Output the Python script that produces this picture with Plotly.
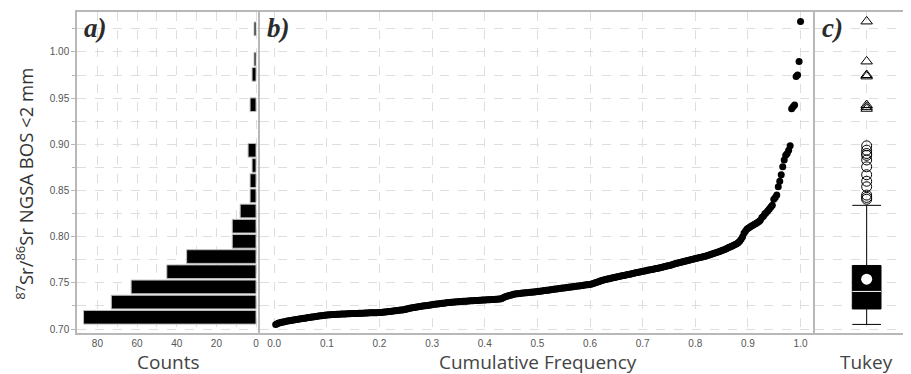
import numpy as np
import plotly.graph_objects as go

# 87Sr/86Sr values (sorted)
sr_values = [
    0.7050, 0.7058, 0.7064, 0.7069, 0.7073, 0.7077, 0.7080, 0.7083, 0.7086, 0.7089,
    0.7092, 0.7095, 0.7098, 0.7100, 0.7103, 0.7105, 0.7108,
    0.7111, 0.7113, 0.7116, 0.7118, 0.7121, 0.7124, 0.7126, 0.7129, 0.7131, 0.7134,
    0.7136, 0.7139, 0.7141, 0.7143, 0.7145, 0.7147, 0.7149, 0.7151, 0.7152, 0.7154,
    0.7155, 0.7156, 0.7157, 0.7158, 0.7159, 0.7160, 0.7161, 0.7162, 0.7163, 0.7163,
    0.7164, 0.7165, 0.7165, 0.7166, 0.7167, 0.7167, 0.7168, 0.7169, 0.7169, 0.7170,
    0.7171, 0.7171, 0.7172, 0.7173, 0.7173, 0.7174, 0.7175, 0.7175, 0.7176, 0.7176,
    0.7177, 0.7177, 0.7178, 0.7178, 0.7179,
    0.7181, 0.7183, 0.7185, 0.7187, 0.7189, 0.7191, 0.7193, 0.7195, 0.7197, 0.7199,
    0.7201, 0.7203, 0.7205, 0.7206, 0.7208,
    0.7212, 0.7216, 0.7220, 0.7225,
    0.7228, 0.7231, 0.7233, 0.7236, 0.7238, 0.7241, 0.7243, 0.7246, 0.7248, 0.7251,
    0.7253, 0.7256, 0.7258, 0.7261, 0.7263, 0.7266,
    0.7268, 0.7270, 0.7272, 0.7274, 0.7276, 0.7278, 0.7280, 0.7282, 0.7284, 0.7286,
    0.7287, 0.7289, 0.7290, 0.7292, 0.7293, 0.7295, 0.7296, 0.7297, 0.7299, 0.7300,
    0.7301, 0.7302, 0.7303, 0.7304, 0.7305, 0.7306, 0.7307, 0.7308, 0.7309, 0.7310,
    0.7311, 0.7312, 0.7313, 0.7314, 0.7315, 0.7316, 0.7317, 0.7318, 0.7319, 0.7320,
    0.7321, 0.7322, 0.7323, 0.7324, 0.7325,
    0.7330, 0.7338, 0.7346, 0.7352, 0.7358, 0.7363, 0.7367, 0.7371,
    0.7377, 0.7379, 0.7381, 0.7383, 0.7385, 0.7387, 0.7389, 0.7390, 0.7392, 0.7394,
    0.7395, 0.7397, 0.7399, 0.7400, 0.7402, 0.7404, 0.7406,
    0.7408, 0.7410, 0.7412, 0.7414, 0.7416, 0.7419, 0.7421, 0.7423, 0.7425, 0.7427,
    0.7430, 0.7432, 0.7434, 0.7436, 0.7438, 0.7441, 0.7443, 0.7445, 0.7447, 0.7449,
    0.7452, 0.7454, 0.7456, 0.7458, 0.7460, 0.7463, 0.7465, 0.7467, 0.7469, 0.7471,
    0.7474, 0.7476, 0.7478, 0.7480, 0.7483, 0.7486,
    0.7490, 0.7495, 0.7500, 0.7506, 0.7512, 0.7518, 0.7524, 0.7529, 0.7533, 0.7536,
    0.7541, 0.7545, 0.7548, 0.7552, 0.7555, 0.7559, 0.7562, 0.7566, 0.7569, 0.7573,
    0.7576, 0.7580, 0.7583, 0.7587, 0.7590, 0.7594, 0.7597, 0.7601, 0.7604, 0.7608,
    0.7611, 0.7615, 0.7618, 0.7622,
    0.7625, 0.7628, 0.7632, 0.7635, 0.7638, 0.7642, 0.7645, 0.7648, 0.7652, 0.7655,
    0.7659, 0.7662, 0.7666, 0.7669, 0.7673, 0.7677, 0.7681, 0.7685, 0.7689, 0.7694,
    0.7698,
    0.7705, 0.7709, 0.7713, 0.7717, 0.7721, 0.7725, 0.7729, 0.7733, 0.7737, 0.7741,
    0.7745, 0.7749, 0.7753, 0.7757, 0.7761, 0.7765, 0.7769, 0.7773, 0.7777, 0.7781,
    0.7785, 0.7789, 0.7794, 0.7799,
    0.7804, 0.7809, 0.7815, 0.7820, 0.7826, 0.7831, 0.7837, 0.7843, 0.7849, 0.7855,
    0.7861,
    0.7870, 0.7877, 0.7884, 0.7891, 0.7899, 0.7907, 0.7915, 0.7924, 0.7935, 0.7950,
    0.7972, 0.7998,
    0.8040, 0.8062, 0.8083, 0.8095, 0.8105, 0.8115, 0.8124, 0.8133, 0.8142, 0.8152,
    0.8163, 0.8178,
    0.8208, 0.8222, 0.8245, 0.8262, 0.8280, 0.8300, 0.8322, 0.8339,
    0.8405, 0.8425, 0.8450,
    0.8540, 0.8600, 0.8670,
    0.8756, 0.8830,
    0.8880, 0.8900, 0.8936, 0.8983,
    0.9385, 0.9405, 0.9425,
    0.9735, 0.9750,
    0.9897,
    1.0330,
]

# histogram bins
bin_start = 0.7045
bin_size = 0.016435
bin_end = 1.0335

# tick labels
sr_ticks = [0.70, 0.75, 0.80, 0.85, 0.90, 0.95, 1.00]
count_ticks = [80, 60, 40, 20, 0]
cf_ticks = [0.0, 0.1, 0.2, 0.3, 0.4, 0.5, 0.6, 0.7, 0.8, 0.9, 1.0]

v = np.sort(np.array(sr_values))
n = len(v)
cum_freq = np.arange(1, n + 1) / n

q1, med, q3 = np.percentile(v, [25, 50, 75])
iqr = q3 - q1
inner_hi, outer_hi = q3 + 1.5 * iqr, q3 + 3.0 * iqr
inner_lo = q1 - 1.5 * iqr
whisk_hi = v[v <= inner_hi].max()
whisk_lo = v[v >= inner_lo].min()
mild = v[(v > inner_hi) & (v <= outer_hi)]
extreme = v[v > outer_hi]
mean_val = v.mean()

BOX_W = 0.9
GRID = "#dedede"
AXL = "#b8b8b8"
TICKF = dict(family="Liberation Sans, Arial, sans-serif", size=10, color="#555555")
TITLEF = dict(family="Open Sans, Noto Sans, sans-serif", size=19, color="#444444")

fig = go.Figure()

fig.add_trace(go.Histogram(
    y=v, ybins=dict(start=bin_start, end=bin_end, size=bin_size),
    marker=dict(color="black", line=dict(color="#bdbdbd", width=1)),
    xaxis="x", yaxis="y", showlegend=False,
))

fig.add_trace(go.Scatter(
    x=cum_freq, y=v, mode="markers",
    marker=dict(color="black", size=7),
    xaxis="x2", yaxis="y2", showlegend=False,
))

fig.add_trace(go.Box(
    x=[0], q1=[q1], median=[med], q3=[q3],
    lowerfence=[whisk_lo], upperfence=[whisk_hi],
    width=BOX_W, whiskerwidth=1, boxpoints=False,
    fillcolor="black", line=dict(color="black", width=1),
    xaxis="x3", yaxis="y3", showlegend=False,
))
fig.add_trace(go.Scatter(
    x=[-BOX_W / 2, BOX_W / 2], y=[med, med], mode="lines",
    line=dict(color="white", width=1),
    xaxis="x3", yaxis="y3", showlegend=False,
))
fig.add_trace(go.Scatter(
    x=[0], y=[mean_val], mode="markers",
    marker=dict(color="white", size=11),
    xaxis="x3", yaxis="y3", showlegend=False,
))
fig.add_trace(go.Scatter(
    x=np.zeros(len(mild)), y=mild, mode="markers",
    marker=dict(symbol="circle-open", color="black", size=10, line=dict(width=1)),
    xaxis="x3", yaxis="y3", showlegend=False,
))
fig.add_trace(go.Scatter(
    x=np.zeros(len(extreme)), y=extreme, mode="markers",
    marker=dict(symbol="triangle-up-open", color="black", size=10, line=dict(width=1)),
    xaxis="x3", yaxis="y3", showlegend=False,
))

YR = [0.6957, 1.0432]
d1 = 183 / 834
d2 = (815.3 - 77) / 834

yminor = dict(dtick=0.025, tick0=0.7, showgrid=True, gridcolor=GRID, griddash="dash")

common_x = dict(showline=True, linecolor=AXL, linewidth=1.5, mirror=True,
                showgrid=True, gridcolor=GRID, griddash="dash", zeroline=False,
                tickfont=TICKF, ticks="", automargin=False)
common_y = dict(domain=[0, 1], range=YR, matches="y", showticklabels=False,
                showline=True, linecolor=AXL, linewidth=1.5,
                showgrid=True, gridcolor=GRID, griddash="dash", zeroline=False,
                tickvals=sr_ticks, minor=yminor, automargin=False)

# the page body adds an 8px offset, so the figure is laid out 8px smaller
fig.update_layout(
    width=903, height=366,
    margin=dict(l=69, r=0, t=4, b=40.7),
    paper_bgcolor="white", plot_bgcolor="white",
    bargap=0.1,
    xaxis=dict(domain=[0, d1], range=[90.3, -2.0], tickvals=count_ticks,
               minor=dict(dtick=10, tick0=0, showgrid=True, gridcolor=GRID, griddash="dash"),
               anchor="y", **common_x),
    yaxis=dict(domain=[0, 1], range=YR, tickvals=sr_ticks, tickformat=".2f",
               showline=True, linecolor=AXL, linewidth=1.5,
               showgrid=True, gridcolor=GRID, griddash="dash", zeroline=False,
               ticks="outside", ticklen=4, tickcolor=AXL, tickfont=TICKF,
               minor=dict(ticks="outside", ticklen=3, tickcolor=AXL, **yminor),
               anchor="x", automargin=False),
    xaxis2=dict(domain=[d1, d2], range=[-0.027, 1.028], tickvals=cf_ticks, tickformat=".1f",
                anchor="y2", **common_x),
    yaxis2=dict(anchor="x2", **common_y),
    xaxis3=dict(domain=[d2, 1], range=[-1.61, 1.39], tickvals=[0], showticklabels=False,
                anchor="y3", **common_x),
    yaxis3=dict(anchor="x3", **common_y),
)

# axis titles
fig.add_annotation(text="<sup>87</sup>Sr/<sup>86</sup>Sr NGSA BOS &lt;2 mm",
                   textangle=-90, xref="paper", yref="paper",
                   x=-(77 - 25) / 834, y=(333.3 - 184) / 321.3,
                   xanchor="center", yanchor="middle", showarrow=False,
                   font=dict(family="Open Sans, Noto Sans, sans-serif", size=18.5, color="#333333"))
for txt, xr, xv in [("Counts", "x domain", 0.5),
                    ("Cumulative Frequency", "x2 domain", 0.5),
                    ("Tukey", "x3", 0)]:
    fig.add_annotation(text=txt, xref=xr, yref="paper", x=xv, y=0,
                       xanchor="center", yanchor="middle", yshift=-29,
                       showarrow=False, font=TITLEF)

label_font = dict(family="Liberation Serif, Times New Roman, serif", size=27,
                  color="#2b2b2b", weight="bold", style="italic")
for txt, xr in [("a)", "x domain"), ("b)", "x2 domain"), ("c)", "x3 domain")]:
    fig.add_annotation(text=txt, xref=xr, yref="paper", x=0, y=1,
                       xanchor="left", yanchor="top", xshift=5, yshift=1,
                       showarrow=False, font=label_font)

fig.write_html("out.html")
